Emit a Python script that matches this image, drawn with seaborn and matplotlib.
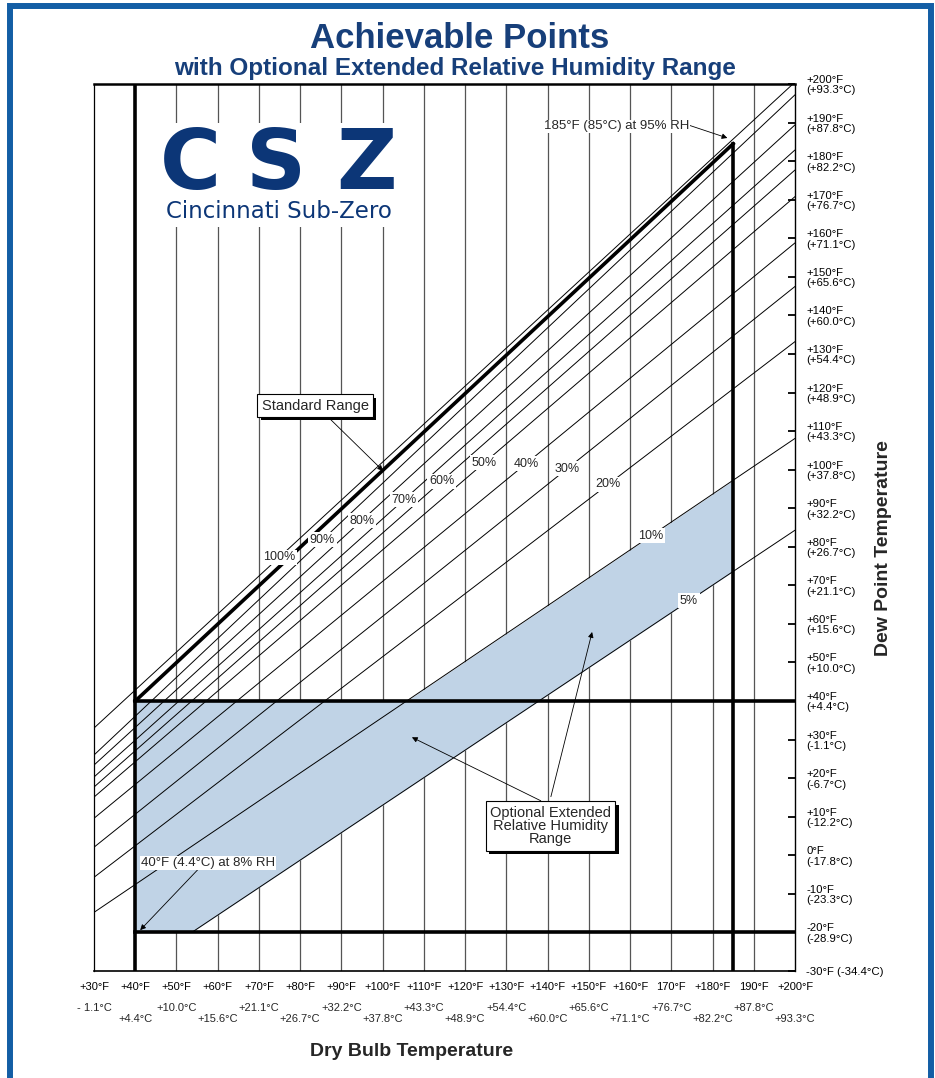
import numpy as np
import pandas as pd
import matplotlib
matplotlib.use("Agg")
import matplotlib.pyplot as plt
import matplotlib.patheffects as pe
from matplotlib.patches import Rectangle
import seaborn as sns

# Configuration
W, H = 935, 1078
AX_L, AX_R, AX_T, AX_B = 94, 795, 84, 971
NAVY = "#173f7a"
BAND = "#c0d3e6"

# Relative humidity lines (dry bulb / dew point, degF)
rh_levels = [100, 90, 80, 70, 60, 50, 40, 30, 20, 10, 5]
rh_start_dry = [30, 30, 30, 30, 30, 30, 30, 30, 30, 30, 53.7]
rh_start_dew = [33.0, 26.0, 23.4, 20.3, 17.7, 15.1, 9.6, 2.1, -5.7, -14.8, -20.0]
rh_end_dry = [200, 200, 200, 200, 200, 200, 200, 200, 200, 200, 200]
rh_end_dew = [200.5, 197.2, 189.4, 182.9, 177.7, 170.8, 158.8, 147.5, 133.2, 108.1, 84.3]
rh_label_dry = [75.0, 85.4, 94.9, 105.1, 114.3, 124.7, 134.8, 144.8, 154.7, 165.1, 174.3]

# Standard range limits
std_diag_dry = [40, 185]
std_diag_dew = [40, 184.5]
std_min_dry = 40
std_max_dry = 185
std_min_dew = 40
ext_min_dew = -20

# Axis labels
x_ticks = list(range(30, 201, 10))
x_f_labels = ["+30°F", "+40°F", "+50°F", "+60°F", "+70°F", "+80°F", "+90°F", "+100°F",
              "+110°F", "+120°F", "+130°F", "+140°F", "+150°F", "+160°F", "170°F",
              "+180°F", "190°F", "+200°F"]
x_c_labels = ["- 1.1°C", "+4.4°C", "+10.0°C", "+15.6°C", "+21.1°C", "+26.7°C", "+32.2°C",
              "+37.8°C", "+43.3°C", "+48.9°C", "+54.4°C", "+60.0°C", "+65.6°C", "+71.1°C",
              "+76.7°C", "+82.2°C", "+87.8°C", "+93.3°C"]
y_ticks = list(range(-30, 201, 10))
y_f_labels = ["-30°F", "-20°F", "-10°F", "0°F", "+10°F", "+20°F", "+30°F", "+40°F", "+50°F",
              "+60°F", "+70°F", "+80°F", "+90°F", "+100°F", "+110°F", "+120°F", "+130°F",
              "+140°F", "+150°F", "+160°F", "+170°F", "+180°F", "+190°F", "+200°F"]
y_c_labels = ["-34.4°C", "-28.9°C", "-23.3°C", "-17.8°C", "-12.2°C", "-6.7°C", "-1.1°C",
              "+4.4°C", "+10.0°C", "+15.6°C", "+21.1°C", "+26.7°C", "+32.2°C", "+37.8°C",
              "+43.3°C", "+48.9°C", "+54.4°C", "+60.0°C", "+65.6°C", "+71.1°C", "+76.7°C",
              "+82.2°C", "+87.8°C", "+93.3°C"]


def fx(px):
    return px / W


def fy(py):
    return 1 - py / H


def line_at(i, x):
    return np.interp(x, [rh_start_dry[i], rh_end_dry[i]], [rh_start_dew[i], rh_end_dew[i]])


def main():
    sns.set_theme(style="white")
    plt.rcParams["font.family"] = ["Liberation Sans", "DejaVu Sans"]

    fig = plt.figure(figsize=(W / 100, H / 100), dpi=100)
    ax = fig.add_axes([fx(AX_L), fy(AX_B), (AX_R - AX_L) / W, (AX_B - AX_T) / H])
    ax.set_xlim(30, 200)
    ax.set_ylim(-30, 200)

    # vertical grid
    for x in x_ticks[2:-1]:
        ax.axvline(x, color="#555555", lw=0.9, zorder=1)

    # white box behind logo
    ax.add_patch(Rectangle((40.5, 163.0), 67.5, 27.0, fc="white", ec="none", zorder=1.5))

    # extended RH band: between the 10% and 5% lines
    i10, i5 = rh_levels.index(10), rh_levels.index(5)
    x10_cross = rh_start_dry[i10] + (std_min_dew - rh_start_dew[i10]) * \
        (rh_end_dry[i10] - rh_start_dry[i10]) / (rh_end_dew[i10] - rh_start_dew[i10])
    xs = np.array(sorted([std_min_dry, rh_start_dry[i5], x10_cross, std_max_dry]))
    upper = np.maximum(std_min_dew, line_at(i10, xs))
    lower = np.maximum(ext_min_dew, line_at(i5, xs))
    ax.fill_between(xs, lower, upper, color=BAND, lw=0, zorder=2)

    # RH lines
    df = pd.DataFrame({
        "rh": rh_levels * 2,
        "dry": rh_start_dry + rh_end_dry,
        "dew": rh_start_dew + rh_end_dew,
    })
    sns.lineplot(data=df, x="dry", y="dew", units="rh", estimator=None, sort=False,
                 color="black", linewidth=0.7, ax=ax, legend=False, zorder=3)

    # standard range / extended range limits
    thick = dict(color="black", lw=2.6, solid_capstyle="projecting", zorder=4)
    ax.plot(std_diag_dry, std_diag_dew, **thick)
    ax.plot([std_min_dry, std_min_dry], [-30, 200], **thick)
    ax.plot([std_max_dry, std_max_dry], [-30, std_diag_dew[1]], **thick)
    ax.plot([std_min_dry, 200], [std_min_dew, std_min_dew], **thick)
    ax.plot([std_min_dry, 200], [ext_min_dew, ext_min_dew], **thick)

    # RH labels
    for i, rh in enumerate(rh_levels):
        x = rh_label_dry[i]
        ax.text(x, line_at(i, x), f"{rh}%", ha="center", va="center", fontsize=9,
                bbox=dict(boxstyle="square,pad=0.12", fc="white", ec="none"), zorder=6)

    arrow = dict(arrowstyle="-|>", color="black", lw=0.6, mutation_scale=8,
                 shrinkA=0, shrinkB=0)

    ax.annotate("185°F (85°C) at 95% RH", xy=(183.6, 186.0), xytext=(174.3, 189.0),
                ha="right", va="center", fontsize=9.5,
                bbox=dict(boxstyle="square,pad=0.05", fc="white", ec="none"),
                arrowprops=dict(arrow, relpos=(1, 0.6)), zorder=6)

    boxed = dict(boxstyle="square,pad=0.3", fc="white", ec="black", lw=0.8)
    a1 = ax.annotate("Standard Range", xy=(100.1, 99.7), xytext=(83.6, 116.6),
                     ha="center", va="center", fontsize=10.5, bbox=boxed,
                     arrowprops=dict(arrow, relpos=(0.58, 0)), zorder=6)
    a2 = ax.annotate("Optional Extended\nRelative Humidity\nRange", xy=(107.1, 30.6),
                     xytext=(140.7, 7.6), ha="center", va="center", fontsize=10.5,
                     linespacing=0.95, bbox=boxed,
                     arrowprops=dict(arrow, relpos=(0.5, 1)), zorder=6)
    ax.annotate("", xy=(150.8, 57.9), xytext=(140.8, 15.2),
                arrowprops=dict(arrow), zorder=5)
    for a in (a1, a2):
        a.get_bbox_patch().set_path_effects([
            pe.SimplePatchShadow(offset=(2.5, -2.5), shadow_rgbFace="black", alpha=1.0),
            pe.Normal()])

    ax.annotate("40°F (4.4°C) at 8% RH", xy=(41.2, -19.4), xytext=(57.6, -2.0),
                ha="center", va="center", fontsize=9.5,
                bbox=dict(boxstyle="square,pad=0.05", fc="white", ec="none"),
                arrowprops=dict(arrow, relpos=(0.43, 0)), zorder=6)

    # axes styling
    for side in ["left", "right", "bottom", "top"]:
        ax.spines[side].set_color("black")
        ax.spines[side].set_visible(True)
    ax.spines["left"].set_linewidth(0.9)
    ax.spines["right"].set_linewidth(1.0)
    ax.spines["bottom"].set_linewidth(1.2)
    ax.spines["top"].set_linewidth(1.8)

    ax.set_xticks(x_ticks)
    ax.set_xticklabels(x_f_labels)
    ax.tick_params(axis="x", length=0, pad=8, labelsize=8, colors="black")

    y_labels = [f"{f}\n({c})" for f, c in zip(y_f_labels, y_c_labels)]
    y_labels[0] = f"{y_f_labels[0]} ({y_c_labels[0]})"
    ax.yaxis.tick_right()
    ax.set_yticks(y_ticks)
    ax.set_yticklabels(y_labels, linespacing=1.05)
    ax.tick_params(axis="y", direction="in", length=5, width=1.3, pad=8,
                   labelsize=8.2, colors="black")
    ax.set_xlabel("")
    ax.set_ylabel("")

    for i, (x, lab) in enumerate(zip(x_ticks, x_c_labels)):
        off = -37 if i % 2 == 0 else -48
        ax.annotate(lab, xy=(x, 0), xycoords=("data", "axes fraction"), xytext=(0, off),
                    textcoords="offset pixels", ha="center", va="center", fontsize=8)

    # axis titles
    fig.text(fx(412), fy(1052), "Dry Bulb Temperature", ha="center", va="center",
             fontsize=14, fontweight="bold")
    fig.text(fx(884), fy(548), "Dew Point Temperature", ha="center", va="center",
             rotation=90, fontsize=14, fontweight="bold")

    # title
    fig.text(fx(460), fy(38), "Achievable Points", ha="center", va="center",
             fontsize=25, fontweight="bold", color=NAVY)
    fig.text(fx(455), fy(68), "with Optional Extended Relative Humidity Range",
             ha="center", va="center", fontsize=17.5, fontweight="bold", color=NAVY)

    # logo
    for letter, px in zip("CSZ", [190, 276, 366]):
        fig.text(fx(px), fy(165), letter, ha="center", va="center", fontsize=60,
                 fontweight="heavy", color="#0c3677", family="DejaVu Sans")
    fig.text(fx(279), fy(211), "Cincinnati Sub-Zero", ha="center", va="center",
             fontsize=16.5, color="#0c3677", family="DejaVu Sans")

    # outer blue frame
    fig.add_artist(Rectangle((fx(10), -0.1), fx(931.5) - fx(10), fy(6.5) + 0.1,
                             transform=fig.transFigure, fill=False, ec="#135ea5", lw=4.3))

    fig.savefig("out.png", dpi=100)
    plt.close(fig)


if __name__ == "__main__":
    main()
